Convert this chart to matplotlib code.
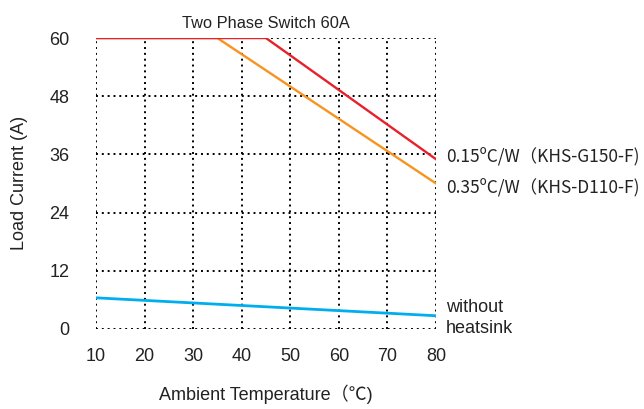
import matplotlib.pyplot as plt

# data
temp_red = [10, 45, 80]
load_red = [60, 60, 35]
temp_orange = [10, 35, 80]
load_orange = [60, 60, 30]
temp_blue = [10, 80]
load_blue = [6.4, 2.7]

x_ticks = [10, 20, 30, 40, 50, 60, 70, 80]
y_ticks = [0, 12, 24, 36, 48, 60]

plt.rcParams['font.family'] = ['Liberation Sans', 'Noto Sans CJK SC', 'DejaVu Sans']

fig = plt.figure(figsize=(6.44, 4.09), dpi=100)
ax = fig.add_axes([0.149, 0.196, 0.528, 0.711])

ax.plot(temp_blue, load_blue, color='#00aeef', lw=2, zorder=3)
ax.plot(temp_orange, load_orange, color='#f7931e', lw=1.7, zorder=3)
ax.plot(temp_red, load_red, color='#e8202a', lw=1.7, zorder=3)

ax.set_xlim(10, 80)
ax.set_ylim(0, 60)
ax.set_xticks(x_ticks)
ax.set_yticks(y_ticks)
ax.grid(True, linestyle=(0, (1, 2)), color='black', lw=1.4)
for s in ax.spines.values():
    s.set_visible(False)
ax.tick_params(length=0, labelsize=13, colors='#222222')
ax.tick_params(axis='y', pad=19)
ax.tick_params(axis='x', pad=14)

ax.set_title('Two Phase Switch 60A', fontsize=11.8, pad=7, color='#222222')
ax.set_xlabel('Ambient Temperature（℃)', fontsize=13, labelpad=14, color='#222222')
ax.set_ylabel('Load Current (A)', fontsize=13, labelpad=15, color='#222222')

kw = dict(fontsize=12.5, color='#222222', va='center', clip_on=False)
cjk = ['Noto Sans CJK SC', 'DejaVu Sans']
ax.text(82.0, 35.5, '0.15ºC/W（KHS-G150-F)', family=cjk, **kw)
ax.text(82.0, 29.0, '0.35ºC/W（KHS-D110-F)', family=cjk, **kw)
ax.text(82.0, 4.3, 'without', fontsize=13, color='#222222', va='center', clip_on=False)
ax.text(82.0, 0.0, 'heatsink', fontsize=13, color='#222222', va='center', clip_on=False)

fig.savefig('out.png', dpi=100)
